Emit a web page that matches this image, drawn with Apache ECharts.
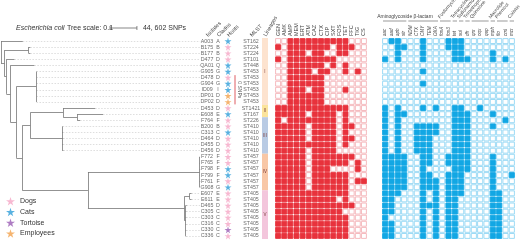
<!DOCTYPE html>
<html>
<head>
<meta charset="utf-8">
<script src="https://cdn.jsdelivr.net/npm/echarts@6/dist/echarts.min.js"></script>
<style>
  html, body { margin: 0; padding: 0; background: #fff; }
  #chart { width: 520px; height: 240px; }
</style>
</head>
<body>
<div id="chart"></div>
<script>
const isolates = ['A003', 'B175', 'B177', 'D477', 'QA01', 'G905', 'D478', 'G904', 'ID09', 'DP01', 'DP02',
  'D453', 'E608', 'F764', 'B200', 'C313', 'D464', 'D455', 'D456', 'F772', 'F765', 'F798', 'F799', 'F761',
  'G908', 'E607', 'E611', 'D465', 'C305', 'C303', 'C316', 'C330', 'C336']
const clades = ['A', 'B', 'B', 'D', 'Q', 'G', 'D', 'G', 'I', 'D', 'D', 'D', 'E', 'F', 'B', 'C', 'D', 'D', 'D',
  'F', 'F', 'F', 'F', 'F', 'G', 'E', 'E', 'D', 'C', 'C', 'C', 'C', 'C']
const hosts = ['Cats', 'Dogs', 'Dogs', 'Dogs', 'Cats', 'Cats', 'Dogs', 'Cats', 'Cats', 'Employees', 'Employees',
  'Dogs', 'Cats', 'Dogs', 'Dogs', 'Cats', 'Dogs', 'Dogs', 'Dogs', 'Dogs', 'Dogs', 'Cats', 'Cats', 'Dogs',
  'Cats', 'Dogs', 'Dogs', 'Dogs', 'Dogs', 'Dogs', 'Dogs', 'Tortoise', 'Dogs']
const mlst = ['ST162', 'ST224', 'ST224', 'ST101', 'ST448', 'ST453', 'ST453', 'ST453', 'ST453', 'ST453', 'ST453',
  'ST1421', 'ST167', 'ST226', 'ST410', 'ST410', 'ST410', 'ST410', 'ST410', 'ST457', 'ST457', 'ST457', 'ST457',
  'ST457', 'ST457', 'ST405', 'ST405', 'ST405', 'ST405', 'ST405', 'ST405', 'ST405', 'ST405']
const lineages = ['I', 'I', 'I', 'I', 'I', 'I', 'I', 'I', 'I', 'I', 'I', 'II', 'II', 'III', 'III', 'III', 'III',
  'III', 'III', 'IV', 'IV', 'IV', 'IV', 'IV', 'IV', 'V', 'V', 'V', 'V', 'V', 'V', 'V', 'V']
const hostNames = ['Dogs', 'Cats', 'Tortoise', 'Employees']
const zeroSnpRows = ['D478', 'DP02']

// tree: [node, parent, branch length]
const treeEdges = [
  ['A003', 'root', 0.081], ['n1', 'root', 0.013],
  ['nB', 'n1', 0.089], ['B175', 'nB', 0.007], ['B177', 'nB', 0.007],
  ['n2', 'n1', 0.007], ['D477', 'n2', 0.03], ['n3', 'n2', 0.015],
  ['QA01', 'n3', 0.089], ['n4', 'n3', 0.022],
  ['nI', 'n4', 0.074], ['G905', 'nI', 0.001], ['D478', 'nI', 0.001], ['G904', 'nI', 0.001],
  ['ID09', 'nI', 0.001], ['DP01', 'nI', 0.001], ['DP02', 'nI', 0.001],
  ['n5', 'n4', 0.022], ['n6', 'n5', 0.03],
  ['nII', 'n6', 0.122], ['D453', 'nII', 0.119], ['n7', 'nII', 0.052], ['E608', 'n7', 0.096], ['F764', 'n7', 0.011],
  ['nIII', 'n6', 0.119], ['B200', 'nIII', 0.001], ['C313', 'nIII', 0.002], ['D464', 'nIII', 0.003],
  ['D455', 'nIII', 0.002], ['D456', 'nIII', 0.004],
  ['n9', 'n5', 0.244],
  ['nIV', 'n9', 0.415], ['F772', 'nIV', 0.001], ['F765', 'nIV', 0.001], ['F798', 'nIV', 0.002],
  ['F799', 'nIV', 0.001], ['F761', 'nIV', 0.002], ['G908', 'nIV', 0.001],
  ['nV', 'n9', 0.359], ['nVa', 'nV', 0.019], ['E607', 'nVa', 0.007], ['E611', 'nVa', 0.007],
  ['nVb', 'nV', 0.004], ['D465', 'nVb', 0.004], ['C305', 'nVb', 0.002], ['C303', 'nVb', 0.002],
  ['C316', 'nVb', 0.002], ['C330', 'nVb', 0.002], ['C336', 'nVb', 0.002]
]

const drugs = ['GEN', 'AMK', 'AMP', 'MEM', 'ERT', 'ATM', 'CAZ', 'CTX', 'CIP', 'SXT', 'FOS', 'TET', 'FFC', 'TIG', 'CS']
const resist = [
  '001111111111000', '101111111011100', '001110110011000', '101111111100000', '001111110101000',
  '001111011001010', '001111110000000', '001111110000000', '001110110001000', '001111110000000',
  '001111110000000', '111111111111000', '111110111101000', '101111111101000', '111110111101100',
  '111110111101000', '111110111101100', '111111111101000', '111110111100000', '111110111111100',
  '111110111111010', '111110111000010', '111110111111000', '111110111111011', '111110111111000',
  '111111111111000', '111111111101000', '111111111111100', '111111111110000', '111111111111000',
  '111111111111000', '111111111111000', '111111111111000'
]

const genes = ['aac', 'aad', 'aph', 'str', 'NDM', 'CTX', 'CMY', 'TEM', 'OXA', 'fosA', 'fos3', 'tet', 'sul',
  'dfr', 'qnr', 'oqx', 'qep', 'mph', 'flo', 'cml', 'mcr']
const geneGroups = [
  ['Aminoglycoside', 0, 3, 0], ['β-lactam', 4, 8, 0], ['Fosfomycin', 9, 10, 1], ['Tetracycline', 11, 11, 1],
  ['Sulfonamide', 12, 12, 1], ['Trimethoprim', 13, 13, 1], ['Quinolone', 14, 16, 1], ['Macrolide', 17, 17, 1],
  ['Phenicol', 18, 19, 1], ['Colistin', 20, 20, 1]
]
const carried = [
  '011000100011100000000', '001100100011100000000', '001000100001100001000', '101000100001110001010',
  '000000000000000000000', '000000100000000000000', '000000000000000000000', '000000100000000000000',
  '000000000000000000000', '000000000000000000000', '000000000000000000000', '101000101001100100000',
  '101100000001110001000', '101000000001110000010', '101001111001110001000', '101001111001110000000',
  '101001110001110000000', '101001110001110000000', '101001110001110000000', '111100110011110001000',
  '111100110011110001000', '111100100001110001000', '111100110011100001001', '111100111011100001000',
  '111100111011100001000', '111000101011100001100', '110000101011000001100', '110000111011000001100',
  '110000101011000001100', '100000101011000001100', '110000101011000001100', '110000101011000001100',
  '110000101011000001100'
]

const hostColor = { Dogs: '#f5a6c6', Cats: '#2f9ed8', Tortoise: '#9a5cb4', Employees: '#f2a14c' }
const lineageColor = { I: '#fde3cf', II: '#fbe49c', III: '#b9cbe4', IV: '#f8c7a6', V: '#f3c6dc' }
const STAR = 'path://M50,0 L61,35 L98,35 L68,57 L79,91 L50,70 L21,91 L32,57 L2,35 L39,35 Z'
const FONT = 'Liberation Sans, Arial, sans-serif'
const nRows = isolates.length

// tree layout
const parentOf = {}
const children = {}
treeEdges.forEach(([n, p, len]) => {
  parentOf[n] = [p, len]
  ;(children[p] = children[p] || []).push(n)
})
const nodeX = { root: 0 }
const getX = (n) => {
  if (nodeX[n] === undefined) nodeX[n] = getX(parentOf[n][0]) + parentOf[n][1]
  return nodeX[n]
}
const nodeY = {}
const getY = (n) => {
  if (nodeY[n] !== undefined) return nodeY[n]
  if (!children[n]) nodeY[n] = isolates.indexOf(n)
  else {
    const ys = children[n].map(getY)
    nodeY[n] = (Math.min(...ys) + Math.max(...ys)) / 2
  }
  return nodeY[n]
}
const branchSegs = []
treeEdges.forEach(([n, p]) => {
  branchSegs.push({ coords: [[getX(p), getY(n)], [getX(n), getY(n)]] })
})
Object.keys(children).forEach((p) => {
  const ys = children[p].map(getY)
  branchSegs.push({ coords: [[getX(p), Math.min(...ys)], [getX(p), Math.max(...ys)]] })
})
const treeMax = Math.max(...isolates.map(getX))
const leaderSegs = isolates.map((n, i) => ({ coords: [[getX(n), i], [treeMax, i]] }))

const grids = [
  { left: 1, width: 200 },
  { left: 200, width: 14 },
  { left: 213, width: 10 },
  { left: 223, width: 10 },
  { left: 242, width: 18 },
  { left: 262, width: 6 },
  { left: 275, width: 92 },
  { left: 382, width: 133 }
].map((g) => ({ ...g, top: 38, height: 201 }))

const topCat = (i, data, rotate, size, italic) => ({
  gridIndex: i, type: 'category', data, position: 'top',
  axisLine: { show: false }, axisTick: { show: false },
  axisLabel: { interval: 0, rotate, fontSize: size, color: '#444', margin: 2, fontFamily: FONT, fontStyle: italic ? 'italic' : 'normal' }
})
const xAxes = [
  { gridIndex: 0, type: 'value', min: 0, max: treeMax + 0.003, show: false },
  topCat(1, ['Isolates'], 45, 5.5),
  topCat(2, ['Clades'], 45, 5.5),
  topCat(3, ['Hosts'], 45, 5.5),
  topCat(4, ['MLST'], 45, 5.5),
  topCat(5, ['Lineages'], 60, 5.5),
  topCat(6, drugs, 90, 5.5),
  topCat(7, genes, 90, 4.6, true)
]
const yAxes = grids.map((g, i) => ({ gridIndex: i, type: 'value', min: -0.5, max: nRows - 0.5, inverse: true, show: false }))

const textCol = (axis, cat, texts, size) => ({
  type: 'scatter', xAxisIndex: axis, yAxisIndex: axis, symbolSize: 1, silent: true,
  itemStyle: { color: 'rgba(0,0,0,0)' },
  data: texts.map((t, i) => [cat, i]),
  label: { show: true, position: 'inside', fontSize: size, color: '#444', fontFamily: FONT,
    formatter: (p) => texts[p.dataIndex] }
})

const cellSeries = (axis, rows, fill, stroke) => ({
  type: 'custom', xAxisIndex: axis, yAxisIndex: axis, silent: true,
  data: rows.flatMap((r, i) => r.split('').map((v, j) => [j, i, +v])),
  renderItem: (params, api) => {
    const c = api.coord([api.value(0), api.value(1)])
    const s = api.size([1, 1])
    return {
      type: 'rect',
      shape: { x: c[0] - s[0] / 2 + 0.6, y: c[1] - s[1] / 2 + 0.6, width: s[0] - 1.2, height: s[1] - 1.2 },
      style: { fill: api.value(2) ? fill : '#fff', stroke: api.value(2) ? fill : stroke, lineWidth: 0.9 }
    }
  }
})

const bands = []
lineages.forEach((l, i) => {
  const last = bands[bands.length - 1]
  if (last && last[0] === l) last[2] = i
  else bands.push([l, i, i])
})

const option = {
  animation: false,
  grid: grids,
  xAxis: xAxes,
  yAxis: yAxes,
  legend: {
    orient: 'vertical', left: 6, top: 197, padding: 0, itemGap: 2.2, itemWidth: 9, itemHeight: 9,
    data: hostNames.map((h) => ({ name: h, icon: STAR })),
    textStyle: { fontSize: 7, color: '#333', fontFamily: FONT }
  },
  series: [
    {
      type: 'lines', coordinateSystem: 'cartesian2d', xAxisIndex: 0, yAxisIndex: 0, silent: true,
      data: leaderSegs, lineStyle: { color: '#c8c8c8', width: 0.6, type: [1.5, 1.5], opacity: 1 }
    },
    {
      type: 'lines', coordinateSystem: 'cartesian2d', xAxisIndex: 0, yAxisIndex: 0, silent: true,
      data: branchSegs, lineStyle: { color: '#777', width: 0.8, opacity: 1 }
    },
    textCol(1, 'Isolates', isolates, 5.3),
    textCol(2, 'Clades', clades, 5.3),
    textCol(4, 'MLST', mlst, 5.3),
    ...hostNames.map((h) => ({
      name: h, type: 'scatter', xAxisIndex: 3, yAxisIndex: 3, symbol: STAR, symbolSize: 7, silent: true,
      itemStyle: { color: hostColor[h] },
      data: hosts.map((v, i) => (v === h ? ['Hosts', i] : null)).filter(Boolean)
    })),
    {
      type: 'custom', xAxisIndex: 5, yAxisIndex: 5, silent: true,
      data: bands.map((b) => [0, b[1], b[2]]),
      renderItem: (params, api) => {
        const b = bands[params.dataIndex]
        const t = api.coord([0, b[1] - 0.5])
        const e = api.coord([0, b[2] + 0.5])
        const w = api.size([1, 0])[0]
        return {
          type: 'group',
          children: [
            { type: 'rect', shape: { x: t[0] - w / 2, y: t[1], width: w, height: e[1] - t[1] },
              style: { fill: lineageColor[b[0]] } },
            { type: 'text', style: { text: b[0], x: t[0], y: (t[1] + e[1]) / 2, align: 'center',
              verticalAlign: 'middle', fontSize: 4.5, fill: '#7a3b3b', fontFamily: FONT } }
          ]
        }
      }
    },
    cellSeries(6, resist, '#e8323c', '#f4b3b8'),
    cellSeries(7, carried, '#12a7e4', '#93d7f4')
  ]
}

const chart = echarts.init(document.getElementById('chart'))
chart.setOption(option)

// annotations placed from axis coordinates
const tree = { xAxisIndex: 0, yAxisIndex: 0 }
const bar0 = chart.convertToPixel(tree, [0, 0])[0]
const bar1 = chart.convertToPixel(tree, [0.1, 0])[0]
const barL = 110
const barR = barL + (bar1 - bar0)
const snpTop = chart.convertToPixel(tree, [0, isolates.indexOf(zeroSnpRows[0]) - 0.4])[1]
const snpBot = chart.convertToPixel(tree, [0, isolates.indexOf(zeroSnpRows[1]) + 0.4])[1]
const blueAxis = { xAxisIndex: 7, yAxisIndex: 7 }
const colPx = (c) => chart.convertToPixel(blueAxis, [c, 0])[0]
const colW = colPx(1) - colPx(0)
const txt = (text, x, y, extra) => ({
  type: 'text', x, y, silent: true,
  style: { text, fontSize: 7, fill: '#333', fontFamily: FONT, verticalAlign: 'middle', ...extra }
})
const graphics = [
  txt('Escherichia coli', 16, 28, { fontStyle: 'italic' }),
  txt('Tree scale: 0.1', 67, 28),
  { type: 'line', silent: true, shape: { x1: barL, y1: 28, x2: barR, y2: 28 }, style: { stroke: '#555', lineWidth: 0.7 } },
  { type: 'line', silent: true, shape: { x1: barL, y1: 26, x2: barL, y2: 30 }, style: { stroke: '#555', lineWidth: 0.7 } },
  { type: 'line', silent: true, shape: { x1: barR, y1: 26, x2: barR, y2: 30 }, style: { stroke: '#555', lineWidth: 0.7 } },
  txt('44, 602 SNPs', barR + 6, 28),
  { type: 'line', silent: true, shape: { x1: 235, y1: snpTop, x2: 235, y2: snpBot }, style: { stroke: '#d6333a', lineWidth: 0.8 } },
  { ...txt('0 SNPs', 239.5, (snpTop + snpBot) / 2, { fontSize: 5, fill: '#555', align: 'center' }), rotation: -Math.PI / 2 }
]
geneGroups.forEach(([name, a, b, rotated]) => {
  const x1 = colPx(a) - colW / 2 + 1
  const x2 = colPx(b) + colW / 2 - 1
  graphics.push({ type: 'line', silent: true, shape: { x1, y1: 21, x2, y2: 21 }, style: { stroke: '#555', lineWidth: 0.6 } })
  if (!rotated) {
    graphics.push(txt(name, (x1 + x2) / 2, 17, { fontSize: 5, fill: '#444', align: 'center' }))
  } else {
    graphics.push({ ...txt(name, x1 + 1, 19.5, { fontSize: 4.8, fill: '#444', align: 'left', verticalAlign: 'bottom' }), rotation: Math.PI * 50 / 180 })
  }
})
chart.setOption({ graphic: graphics })
</script>
</body>
</html>
